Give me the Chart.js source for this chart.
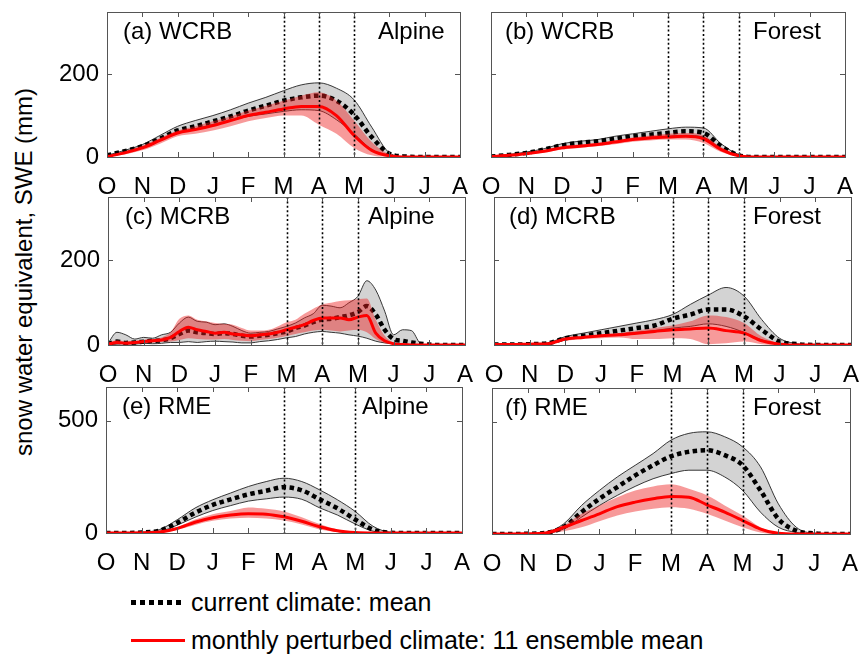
<!DOCTYPE html>
<html>
<head>
<meta charset="utf-8">
<script src="https://cdn.jsdelivr.net/npm/chart.js@4/dist/chart.umd.min.js"></script>
<style>
  html, body { margin: 0; padding: 0; background: #fff; overflow: hidden; }
  body { width: 860px; height: 655px; position: relative; font-family: "Liberation Sans", Arial, sans-serif; }
  .panel { position: absolute; }
  #ytitle { position: absolute; left: 24px; top: 272px; font-size: 24px; white-space: nowrap;
            transform: translate(-50%, -50%) rotate(-90deg); }
  .leyenda { position: absolute; left: 131px; display: flex; align-items: center; font-size: 25px; white-space: nowrap; }
  .muestra { width: 54px; margin-right: 6px; }
  .punteada { height: 5px; background: repeating-linear-gradient(to right, #000 0 5px, transparent 5px 9px); }
  .roja { height: 3px; background: #ff0000; }
</style>
</head>
<body>
<div id="ytitle">snow water equivalent, SWE (mm)</div>
<div class="leyenda" style="top:588px"><div class="muestra punteada"></div>current climate: mean</div>
<div class="leyenda" style="top:626px"><div class="muestra roja"></div>monthly perturbed climate: 11 ensemble mean</div>

<script>
// Month axis: 0 = 1 Oct ... 10 = 1 Aug
const meses = ['O', 'N', 'D', 'J', 'F', 'M', 'A', 'M', 'J', 'J', 'A'];
const mesesX = [0, 1, 2, 3, 4, 5, 6, 7, 8, 9, 10];
const lineasPunteadas = [5, 6, 7];
const ticks200 = [0, 200];
const ticks500 = [0, 500];

// half-month sample positions
const xMedioMes = [0, 0.5, 1, 1.5, 2, 2.5, 3, 3.5, 4, 4.5, 5, 5.5, 6, 6.5, 7, 7.5, 8, 8.5, 9, 9.5, 10];
// quarter-month sample positions (noisy panel c)
const xCuartoMes = [0, 0.25, 0.5, 0.75, 1, 1.25, 1.5, 1.75, 2, 2.25, 2.5, 2.75, 3, 3.25, 3.5, 3.75,
  4, 4.25, 4.5, 4.75, 5, 5.25, 5.5, 5.75, 6, 6.25, 6.5, 6.75, 7, 7.25, 7.5, 7.75,
  8, 8.25, 8.5, 8.75, 9, 9.25, 9.5, 9.75, 10];

// (a) WCRB Alpine
const aCurMax   = [4, 16, 30, 52, 74, 88, 100, 114, 130, 144, 160, 174, 179, 166, 138, 72, 10, 0, 0, 0, 0];
const aCurMin   = [0, 12, 24, 40, 58, 68, 78, 88, 98, 104, 110, 114, 112, 90, 56, 18, 2, 0, 0, 0, 0];
const aCurMean  = [4, 14, 26, 44, 64, 74, 86, 98, 112, 124, 136, 144, 148, 136, 102, 48, 8, 1, 0, 0, 0];
const aPertMax  = [2, 14, 28, 46, 64, 74, 86, 98, 112, 124, 136, 148, 156, 136, 88, 36, 6, 0, 0, 0, 0];
const aPertMin  = [0, 6, 16, 32, 50, 56, 64, 74, 86, 94, 100, 100, 78, 56, 22, 4, 0, 0, 0, 0, 0];
const aPertMean = [1, 10, 22, 40, 58, 66, 76, 88, 100, 108, 116, 122, 122, 100, 52, 16, 3, 0, 0, 0, 0];

// (b) WCRB Forest
const bCurMax   = [2, 6, 12, 20, 32, 38, 42, 50, 56, 62, 68, 72, 70, 32, 6, 1, 0, 0, 0, 0, 0];
const bCurMin   = [0, 4, 8, 14, 22, 26, 30, 36, 42, 46, 50, 52, 48, 20, 2, 0, 0, 0, 0, 0, 0];
const bCurMean  = [1, 5, 10, 18, 28, 34, 38, 44, 50, 54, 58, 62, 58, 26, 4, 0, 0, 0, 0, 0, 0];
const bPertMax  = [2, 6, 10, 17, 26, 30, 34, 40, 47, 52, 56, 58, 52, 24, 4, 0, 0, 0, 0, 0, 0];
const bPertMin  = [0, 3, 6, 11, 18, 22, 26, 31, 37, 40, 42, 42, 34, 12, 1, 0, 0, 0, 0, 0, 0];
const bPertMean = [1, 4, 8, 14, 22, 26, 30, 36, 42, 46, 48, 50, 44, 18, 3, 0, 0, 0, 0, 0, 0];

// (c) MCRB Alpine (quarter months)
const cCurMax   = [4, 30, 24, 14, 18, 16, 24, 30, 52, 66, 56, 54, 48, 50, 44, 34, 28, 30, 32, 38, 44, 52, 64, 74,
  94, 92, 88, 100, 115, 152, 130, 80, 24, 36, 34, 4, 0, 0, 0, 0, 0];
const cCurMin   = [0, 2, 3, 2, 4, 3, 4, 6, 6, 8, 6, 8, 9, 8, 7, 5, 5, 8, 10, 13, 17, 20, 26, 30,
  32, 30, 28, 24, 21, 16, 9, 5, 3, 1, 0, 0, 0, 0, 0, 0, 0];
const cCurMean  = [2, 8, 5, 6, 8, 10, 11, 16, 26, 34, 30, 28, 26, 28, 26, 22, 20, 22, 24, 28, 32, 40, 46, 54,
  60, 62, 66, 70, 78, 92, 72, 36, 14, 10, 6, 3, 1, 0, 0, 0, 0];
const cPertMax  = [3, 12, 8, 8, 12, 14, 18, 30, 62, 70, 60, 56, 52, 50, 48, 40, 34, 34, 36, 44, 54, 60, 74, 86,
  96, 100, 104, 106, 108, 110, 60, 22, 6, 2, 0, 0, 0, 0, 0, 0, 0];
const cPertMin  = [0, 2, 2, 3, 4, 6, 7, 8, 12, 16, 14, 13, 13, 14, 12, 10, 9, 12, 14, 17, 21, 26, 30, 34,
  36, 34, 32, 34, 36, 30, 14, 4, 1, 0, 0, 0, 0, 0, 0, 0, 0];
const cPertMean = [2, 6, 4, 6, 8, 10, 12, 18, 32, 42, 36, 32, 28, 30, 26, 24, 22, 24, 26, 30, 36, 42, 48, 58,
  64, 64, 64, 60, 66, 70, 28, 10, 3, 1, 0, 0, 0, 0, 0, 0, 0];

// (d) MCRB Forest
const dCurMax   = [1, 2, 3, 5, 20, 28, 36, 44, 52, 60, 72, 96, 118, 136, 116, 60, 16, 3, 0, 0, 0];
const dCurMin   = [0, 1, 2, 3, 12, 18, 22, 26, 30, 34, 40, 44, 50, 44, 30, 12, 3, 0, 0, 0, 0];
const dCurMean  = [1, 1, 2, 4, 16, 22, 28, 34, 40, 46, 62, 72, 84, 84, 68, 36, 8, 2, 0, 0, 0];
const dPertMax  = [1, 2, 3, 4, 16, 20, 24, 28, 34, 40, 46, 56, 70, 66, 52, 20, 4, 0, 0, 0, 0];
const dPertMin  = [0, 1, 1, 2, 10, 14, 16, 18, 14, 14, 16, 14, 2, 4, 8, 2, 0, 0, 0, 0, 0];
const dPertMean = [1, 1, 2, 3, 14, 18, 22, 24, 28, 32, 36, 38, 40, 34, 28, 10, 2, 0, 0, 0, 0];

// (e) RME Alpine
const eCurMax   = [0, 0, 3, 15, 59, 111, 148, 178, 207, 229, 244, 229, 192, 148, 96, 30, 3, 0, 0, 0, 0];
const eCurMin   = [0, 0, 1, 6, 35, 70, 100, 122, 142, 152, 160, 150, 112, 80, 40, 8, 0, 0, 0, 0, 0];
const eCurMean  = [0, 0, 2, 10, 45, 90, 125, 150, 172, 188, 204, 190, 150, 110, 60, 15, 1, 0, 0, 0, 0];
const ePertMax  = [0, 0, 1, 6, 26, 60, 84, 98, 114, 108, 96, 70, 40, 16, 4, 0, 0, 0, 0, 0, 0];
const ePertMin  = [0, 0, 0, 2, 14, 36, 54, 64, 68, 64, 56, 38, 16, 4, 0, 0, 0, 0, 0, 0, 0];
const ePertMean = [0, 0, 1, 4, 20, 48, 68, 80, 86, 84, 72, 52, 28, 10, 2, 0, 0, 0, 0, 0, 0];

// (f) RME Forest
const fCurMax   = [0, 0, 1, 7, 45, 127, 194, 254, 306, 358, 418, 448, 455, 433, 388, 299, 134, 30, 3, 0, 0];
const fCurMin   = [0, 0, 0, 3, 22, 75, 127, 172, 212, 246, 269, 284, 284, 254, 194, 97, 30, 7, 0, 0, 0];
const fCurMean  = [0, 0, 1, 5, 30, 97, 157, 209, 261, 306, 346, 366, 373, 351, 306, 194, 67, 15, 3, 0, 0];
const fPertMax  = [0, 0, 1, 6, 37, 90, 127, 164, 194, 212, 221, 201, 172, 127, 82, 30, 4, 0, 0, 0, 0];
const fPertMin  = [0, 0, 0, 2, 12, 30, 57, 82, 100, 112, 119, 112, 90, 60, 30, 7, 0, 0, 0, 0, 0];
const fPertMean = [0, 0, 1, 4, 30, 60, 90, 122, 142, 157, 167, 164, 130, 97, 60, 22, 3, 0, 0, 0, 0];

// layout of the six panels (plot area in page pixels: left, top, right, bottom)
const paneles = [
  { area: [107, 12, 460, 157], yMax: 350, yTicks: ticks200, conEtiquetas: true, titulo: '(a) WCRB', tituloX: 123, zona: 'Alpine', zonaX: 378,
    x: xMedioMes, curMax: aCurMax, curMin: aCurMin, curMean: aCurMean, pertMax: aPertMax, pertMin: aPertMin, pertMean: aPertMean },
  { area: [491, 12, 845, 157], yMax: 350, yTicks: ticks200, conEtiquetas: false, titulo: '(b) WCRB', tituloX: 505, zona: 'Forest', zonaX: 753,
    x: xMedioMes, curMax: bCurMax, curMin: bCurMin, curMean: bCurMean, pertMax: bPertMax, pertMin: bPertMin, pertMean: bPertMean },
  { area: [108, 197, 465, 345], yMax: 350, yTicks: ticks200, conEtiquetas: true, titulo: '(c) MCRB', tituloX: 125, zona: 'Alpine', zonaX: 368,
    x: xCuartoMes, curMax: cCurMax, curMin: cCurMin, curMean: cCurMean, pertMax: cPertMax, pertMin: cPertMin, pertMean: cPertMean },
  { area: [494, 197, 851, 345], yMax: 350, yTicks: ticks200, conEtiquetas: false, titulo: '(d) MCRB', tituloX: 509, zona: 'Forest', zonaX: 753,
    x: xMedioMes, curMax: dCurMax, curMin: dCurMin, curMean: dCurMean, pertMax: dPertMax, pertMin: dPertMin, pertMean: dPertMean },
  { area: [106, 387, 462, 533], yMax: 650, yTicks: ticks500, conEtiquetas: true, titulo: '(e) RME', tituloX: 122, zona: 'Alpine', zonaX: 362,
    x: xMedioMes, curMax: eCurMax, curMin: eCurMin, curMean: eCurMean, pertMax: ePertMax, pertMin: ePertMin, pertMean: ePertMean },
  { area: [492, 388, 850, 534], yMax: 650, yTicks: ticks500, conEtiquetas: false, titulo: '(f) RME', tituloX: 505, zona: 'Forest', zonaX: 753,
    x: xMedioMes, curMax: fCurMax, curMin: fCurMin, curMean: fCurMean, pertMax: fPertMax, pertMin: fPertMin, pertMean: fPertMean }
];

const ANCHO_Y = 60, ALTO_X = 40, PAD_TOP = 8, PAD_RIGHT = 10;

Chart.defaults.font.family = '"Liberation Sans", Arial, sans-serif';
Chart.defaults.color = '#000';

function puntos(xs, ys) {
  return xs.map((x, i) => ({ x: x, y: ys[i] }));
}

// Frame, inward ticks, dotted month lines and panel texts
const marcoPlugin = {
  id: 'marco',
  afterDatasetsDraw(chart, args, opts) {
    const p = opts.panel;
    if (!p) return;
    const { ctx, chartArea: a, scales } = chart;
    const xs = scales.x, ys = scales.y;
    ctx.save();

    ctx.strokeStyle = '#000';
    ctx.lineWidth = 1.6;
    ctx.setLineDash([2, 2.4]);
    lineasPunteadas.forEach(m => {
      const px = Math.round(xs.getPixelForValue(m)) + 0.5;
      ctx.beginPath();
      ctx.moveTo(px, a.top);
      ctx.lineTo(px, a.bottom);
      ctx.stroke();
    });
    ctx.setLineDash([]);

    ctx.strokeStyle = '#555';
    ctx.lineWidth = 1;
    ctx.strokeRect(a.left + 0.5, a.top + 0.5, a.right - a.left, a.bottom - a.top);
    ctx.beginPath();
    mesesX.forEach(m => {
      const px = Math.round(xs.getPixelForValue(m)) + 0.5;
      ctx.moveTo(px, a.bottom); ctx.lineTo(px, a.bottom - 5);
      ctx.moveTo(px, a.top); ctx.lineTo(px, a.top + 5);
    });
    p.yTicks.forEach(v => {
      const py = Math.round(ys.getPixelForValue(v)) + 0.5;
      ctx.moveTo(a.left, py); ctx.lineTo(a.left + 5, py);
      ctx.moveTo(a.right, py); ctx.lineTo(a.right - 5, py);
    });
    ctx.stroke();

    // texts placed in page coordinates
    const dx = a.left - p.area[0];
    const dy = a.top - p.area[1];
    ctx.fillStyle = '#000';
    ctx.font = '24px "Liberation Sans", Arial, sans-serif';
    ctx.textBaseline = 'alphabetic';
    ctx.textAlign = 'left';
    ctx.fillText(p.titulo, p.tituloX + dx, p.area[1] + 27 + dy);
    ctx.fillText(p.zona, p.zonaX + dx, p.area[1] + 27 + dy);
    ctx.restore();
  }
};

// Build one panel
function crearPanel(p) {
  const [l, t, r, b] = p.area;
  const div = document.createElement('div');
  div.className = 'panel';
  div.style.left = (l - ANCHO_Y) + 'px';
  div.style.top = (t - PAD_TOP) + 'px';
  div.style.width = (r - l + ANCHO_Y + PAD_RIGHT) + 'px';
  div.style.height = (b - t + PAD_TOP + ALTO_X) + 'px';
  const canvas = document.createElement('canvas');
  div.appendChild(canvas);
  document.body.appendChild(div);

  const base = { pointRadius: 0, cubicInterpolationMode: 'monotone', fill: false };

  return new Chart(canvas.getContext('2d'), {
    type: 'line',
    data: {
      datasets: [
        { ...base, data: puntos(p.x, p.curMax), borderColor: '#222', borderWidth: 0.9,
          backgroundColor: '#d3d3d3', fill: { target: 1 }, order: 6 },
        { ...base, data: puntos(p.x, p.curMin), borderColor: '#222', borderWidth: 0.9, order: 5 },
        { ...base, data: puntos(p.x, p.curMean), borderColor: '#000', borderWidth: 4.5,
          borderDash: [4.5, 3.5], order: 4 },
        { ...base, data: puntos(p.x, p.pertMax), borderWidth: 0, borderColor: 'rgba(0,0,0,0)',
          backgroundColor: 'rgba(238,30,30,0.45)', fill: { target: 4 }, order: 3 },
        { ...base, data: puntos(p.x, p.pertMin), borderWidth: 0, borderColor: 'rgba(0,0,0,0)', order: 2 },
        { ...base, data: puntos(p.x, p.pertMean), borderColor: '#ff0000', borderWidth: 3, order: 1 }
      ]
    },
    options: {
      responsive: true,
      maintainAspectRatio: false,
      animation: false,
      layout: { padding: { top: PAD_TOP, right: PAD_RIGHT, left: 0, bottom: 0 }, autoPadding: false },
      plugins: {
        legend: { display: false },
        tooltip: { enabled: false },
        marco: { panel: p }
      },
      scales: {
        x: {
          type: 'linear', min: 0, max: 10,
          grid: { display: false, drawTicks: false },
          border: { display: false },
          afterBuildTicks: s => { s.ticks = mesesX.map(v => ({ value: v })); },
          afterFit: s => { s.height = ALTO_X; s.paddingLeft = 0; s.paddingRight = 0; },
          ticks: {
            autoSkip: false, maxRotation: 0, padding: 16,
            font: { size: 24 },
            callback: v => meses[Math.round(v)]
          }
        },
        y: {
          min: 0, max: p.yMax,
          grid: { display: false, drawTicks: false },
          border: { display: false },
          afterBuildTicks: s => { s.ticks = p.yTicks.map(v => ({ value: v })); },
          afterFit: s => { s.width = ANCHO_Y; s.paddingTop = 0; s.paddingBottom = 0; },
          ticks: { display: p.conEtiquetas, padding: 8, font: { size: 24 } }
        }
      }
    },
    plugins: [marcoPlugin]
  });
}

paneles.forEach(crearPanel);
</script>
</body>
</html>
